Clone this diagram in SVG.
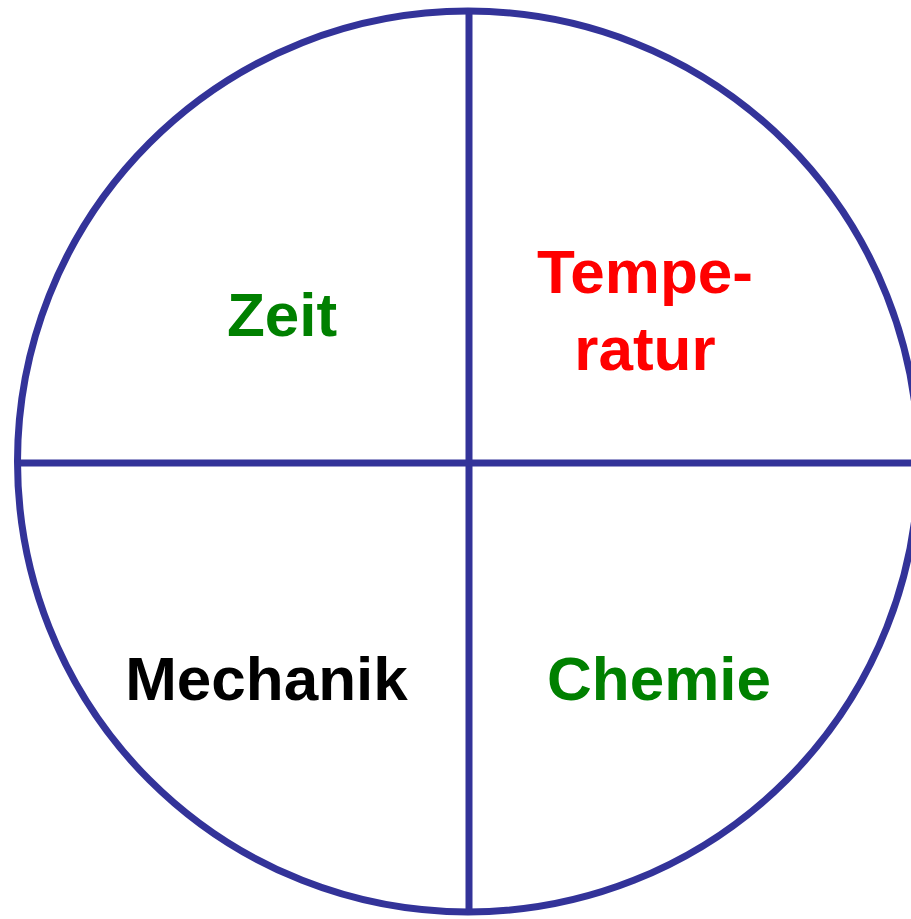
<svg xmlns="http://www.w3.org/2000/svg" width="911" height="919" viewBox="0 0 911 919">
<style>
.ln{stroke:#333399;stroke-width:7;fill:none}
text{font-family:"Liberation Sans",Arial,sans-serif;font-weight:bold;font-size:62px;text-anchor:middle}
</style>
<rect width="911" height="919" fill="#fff"/>
<g id="connectors">
<circle class="ln" cx="468" cy="461.5" r="450.5"/>
<line class="ln" x1="469" y1="11" x2="469" y2="912"/>
<line class="ln" x1="18" y1="463" x2="918" y2="463"/>
</g>
<g id="zeit"><text x="282" y="336" fill="#008000">Zeit</text></g>
<g id="temperatur"><text x="645" y="293" fill="#ff0000">Tempe-</text><text x="645" y="370" fill="#ff0000">ratur</text></g>
<g id="mechanik"><text x="266.5" y="700" fill="#000">Mechanik</text></g>
<g id="chemie"><text x="659" y="700" fill="#008000">Chemie</text></g>
</svg>
